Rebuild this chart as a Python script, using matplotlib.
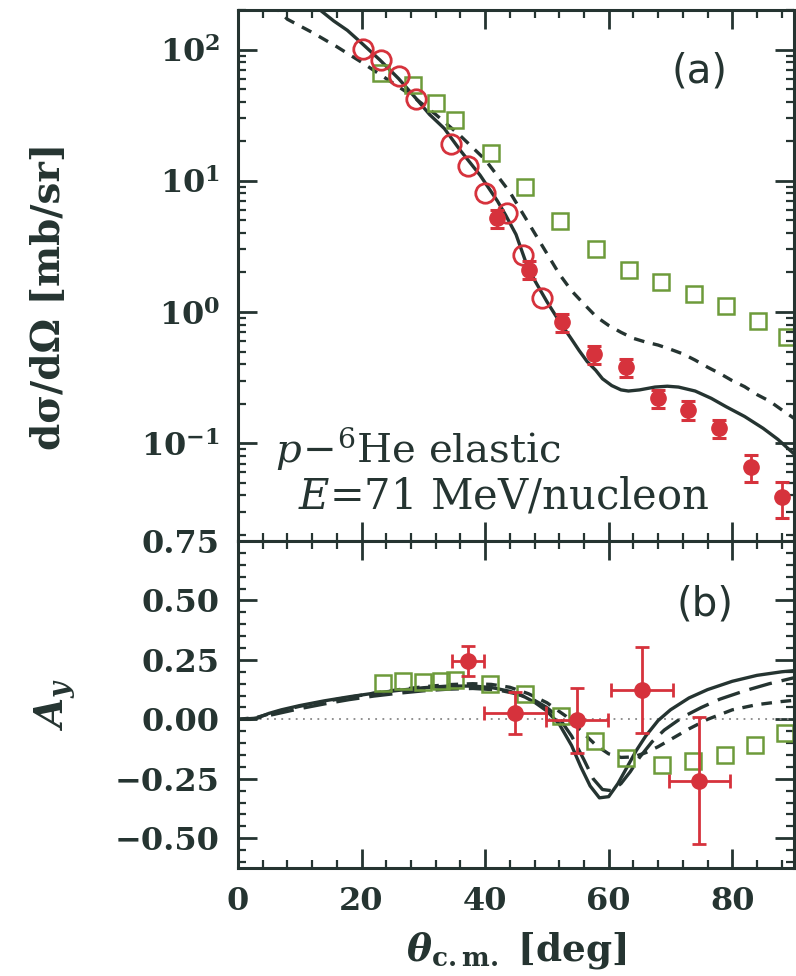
import matplotlib
matplotlib.use("Agg")
import matplotlib.pyplot as plt
from matplotlib.ticker import (MultipleLocator, LogLocator, NullFormatter, FixedLocator,
                               FixedFormatter, FuncFormatter)
import numpy as np

plt.rcParams['font.family'] = ['DejaVu Serif']
plt.rcParams['mathtext.fontset'] = 'dejavuserif'
plt.rcParams['axes.unicode_minus'] = True

DARK = '#253431'
RED = '#d6323c'
GREEN = '#6d9b3a'

# ---- (a) cross section ----
# open circles
xs_open_th = [20.2, 23.1, 26.0, 28.8, 34.4, 37.3, 40.0, 43.6, 46.1, 49.2]
xs_open_val = [101, 83, 63, 42, 18.9, 13.0, 8.0, 5.7, 2.7, 1.28]
# filled circles
xs_fill_th = [42.0, 47.1, 52.5, 57.7, 62.8, 68.0, 72.9, 77.8, 83.1, 88.0]
xs_fill_val = [5.2, 2.1, 0.84, 0.48, 0.38, 0.22, 0.18, 0.13, 0.066, 0.039]
xs_fill_err = [0.8, 0.33, 0.13, 0.075, 0.06, 0.036, 0.029, 0.021, 0.015, 0.012]
# open squares
xs_sq_th = [23.2, 28.4, 32.0, 35.1, 41.0, 46.4, 52.2, 58.0, 63.3, 68.5, 73.8, 79.0, 84.1, 88.9]
xs_sq_val = [66, 54, 39, 29, 16.3, 9.0, 4.9, 3.0, 2.1, 1.7, 1.37, 1.11, 0.86, 0.64]

# theory curves
xs_solid_th = [0, 5, 10, 13, 15.5, 17.7, 20, 23, 26, 28.7, 31, 33.4, 36, 39.2, 42, 43.3, 45,
               46.8, 48, 50, 52, 54, 55.2, 56.5, 57.9, 59, 60.5, 62, 63.2, 65, 67.5, 69.5,
               71.3, 74, 76.6, 79, 82, 85, 87.4, 90]
xs_solid_val = [700, 500, 290, 205, 165, 140, 112, 83, 60, 43, 32, 25, 17, 11, 7.0, 5.5, 3.9,
                2.25, 1.75, 1.2, 0.85, 0.62, 0.51, 0.42, 0.36, 0.31, 0.275, 0.255, 0.25, 0.255,
                0.268, 0.272, 0.268, 0.25, 0.22, 0.19, 0.16, 0.13, 0.107, 0.083]
xs_dash_th = [0, 4, 6.5, 8, 12, 16, 20, 24, 28, 32, 36, 40, 44, 48, 52, 54, 56, 58, 60, 62, 64,
              66, 68, 70, 72, 74, 76, 78, 80, 82, 84, 86, 88, 90]
xs_dash_val = [260, 230, 200, 170, 135, 105, 80, 60, 45, 32, 22, 14.5, 8.2, 4.0, 1.95, 1.45,
               1.15, 0.92, 0.79, 0.70, 0.63, 0.59, 0.56, 0.52, 0.48, 0.43, 0.38, 0.34, 0.30,
               0.27, 0.235, 0.21, 0.18, 0.155]

# ---- (b) analyzing power ----
ay_pt_th = [37.2, 44.8, 54.9, 65.4, 74.7]
ay_pt_val = [0.246, 0.028, -0.004, 0.124, -0.258]
ay_pt_xerr = [2.6, 5.0, 5.0, 5.0, 5.0]
ay_pt_yerr = [0.063, 0.088, 0.137, 0.18, 0.267]

ay_sq_th = [23.4, 26.7, 29.9, 32.8, 35.1, 40.8, 46.5, 52.3, 57.8, 62.8, 68.6, 73.6, 78.8, 83.7, 88.6]
ay_sq_val = [0.155, 0.162, 0.159, 0.162, 0.165, 0.148, 0.106, 0.014, -0.092, -0.162, -0.19,
             -0.176, -0.148, -0.106, -0.056]

ay_solid_th = [0, 2, 3, 5, 7, 10, 14, 18, 22, 26, 30, 34, 38, 41, 44, 46, 48, 50, 52, 54, 55.5,
               57, 58.5, 60, 61.5, 63, 64.5, 66, 68, 70, 73, 76, 80, 84, 88, 90]
ay_solid_val = [0, 0, 0.005, 0.025, 0.04, 0.058, 0.078, 0.095, 0.11, 0.122, 0.133, 0.14, 0.14,
                0.134, 0.118, 0.1, 0.072, 0.035, -0.02, -0.11, -0.2, -0.28, -0.33, -0.325,
                -0.27, -0.2, -0.13, -0.07, -0.005, 0.04, 0.09, 0.125, 0.16, 0.185, 0.2, 0.205]
ay_ldash_th = [0, 3, 6, 10, 14, 18, 22, 26, 30, 34, 38, 42, 45, 48, 50, 52, 54, 56, 57.5, 59,
               60.5, 62, 63.5, 65, 67, 69, 72, 75, 78, 82, 86, 90]
ay_ldash_val = [0, 0.005, 0.022, 0.045, 0.065, 0.083, 0.098, 0.11, 0.12, 0.127, 0.13, 0.124,
                0.108, 0.08, 0.05, 0.005, -0.07, -0.17, -0.25, -0.295, -0.3, -0.27, -0.22,
                -0.16, -0.095, -0.045, 0.01, 0.05, 0.085, 0.12, 0.15, 0.175]
ay_sdash_th = [0, 3, 6, 10, 14, 18, 22, 26, 30, 34, 38, 41, 44, 47, 50, 53, 56, 58, 60, 62, 64,
               66, 68, 70, 73, 76, 80, 84, 88, 90]
ay_sdash_val = [0, 0.008, 0.03, 0.055, 0.075, 0.093, 0.11, 0.125, 0.137, 0.146, 0.15, 0.147,
                0.135, 0.108, 0.07, 0.015, -0.06, -0.11, -0.145, -0.16, -0.158, -0.14, -0.115,
                -0.085, -0.04, 0.0, 0.04, 0.062, 0.075, 0.08]

ay_ticks = [0.75, 0.50, 0.25, 0.00, -0.25, -0.50]

W, H = 796, 976
fig = plt.figure(figsize=(W / 100, H / 100), dpi=100)
left, right = 238 / W, 794 / W
ax1 = fig.add_axes([left, 1 - 541 / H, right - left, (541 - 10) / H])
ax2 = fig.add_axes([left, 1 - 868 / H, right - left, (868 - 541) / H], sharex=ax1)


def style_axis(ax):
    for sp in ax.spines.values():
        sp.set_linewidth(2.2)
        sp.set_color(DARK)
    ax.tick_params(which='both', direction='in', top=True, right=True, colors=DARK,
                   labelsize=23, pad=13)
    ax.tick_params(which='major', length=14, width=2.0)
    ax.tick_params(which='minor', length=6, width=1.6)
    for lbl in ax.get_xticklabels() + ax.get_yticklabels():
        lbl.set_fontweight('bold')


def pow10_label(v, pos):
    return r'$\mathbf{10^{%d}}$' % int(round(np.log10(v)))


# panel (a)
ax1.set_yscale('log')
ax1.plot(xs_dash_th, xs_dash_val, color=DARK, lw=2.4, dashes=(3.2, 2.6))
ax1.plot(xs_solid_th, xs_solid_val, color=DARK, lw=2.4)
ax1.plot(xs_sq_th, xs_sq_val, ls='none', marker='s', ms=12, mfc='none', mec=GREEN, mew=1.8)
ax1.plot(xs_open_th, xs_open_val, ls='none', marker='o', ms=14, mfc='none', mec=RED, mew=2.0)
ax1.errorbar(xs_fill_th, xs_fill_val, yerr=xs_fill_err, fmt='o', ms=11, color=RED,
             ecolor=RED, elinewidth=2.0, capsize=5, capthick=2.2)
ax1.set_xlim(0, 90)
ax1.set_ylim(0.018, 200)
ax1.yaxis.set_major_locator(LogLocator(base=10, numticks=10))
ax1.yaxis.set_major_formatter(FuncFormatter(pow10_label))
ax1.yaxis.set_minor_locator(LogLocator(base=10, subs=range(2, 10), numticks=20))
ax1.yaxis.set_minor_formatter(NullFormatter())
style_axis(ax1)
ax1.tick_params(labelbottom=False)
ax1.set_ylabel('dσ/dΩ [mb/sr]', fontsize=28, color=DARK, weight='bold')
ax1.yaxis.set_label_coords(-0.305, 0.46)
ax1.text(0.83, 0.885, '(a)', transform=ax1.transAxes, fontsize=29, color=DARK,
         family='DejaVu Sans', ha='center', va='center')
ax1.text(0.066, 0.174, r'$p\!-\!{}^{6}$He elastic', transform=ax1.transAxes, fontsize=29,
         color=DARK, ha='left', va='center')
ax1.text(0.108, 0.083, r'$E$=71 MeV/nucleon', transform=ax1.transAxes, fontsize=30,
         color=DARK, ha='left', va='center')

# panel (b)
ax2.axhline(0, color='#888888', lw=1.3, ls=(0, (1, 3)))
ax2.plot(ay_sdash_th, ay_sdash_val, color=DARK, lw=2.4, dashes=(3.2, 2.6))
ax2.plot(ay_ldash_th, ay_ldash_val, color=DARK, lw=2.4, dashes=(7, 3))
ax2.plot(ay_solid_th, ay_solid_val, color=DARK, lw=2.4)
ax2.plot(ay_sq_th, ay_sq_val, ls='none', marker='s', ms=12, mfc='none', mec=GREEN, mew=1.8)
ax2.errorbar(ay_pt_th, ay_pt_val, xerr=ay_pt_xerr, yerr=ay_pt_yerr, fmt='o', ms=11,
             color=RED, ecolor=RED, elinewidth=2.0, capsize=5, capthick=2.0)
ax2.set_ylim(-0.625, 0.75)
ax2.yaxis.set_major_locator(FixedLocator(ay_ticks))
ax2.yaxis.set_major_formatter(FixedFormatter([f'{v:.2f}'.replace('-', '\u2212') for v in ay_ticks]))
ax2.yaxis.set_minor_locator(MultipleLocator(0.05))
ax2.xaxis.set_major_locator(MultipleLocator(20))
ax2.xaxis.set_minor_locator(MultipleLocator(4))
style_axis(ax2)
ax2.set_ylabel(r'$\mathbfit{A}_{\mathbfit{y}}$', fontsize=28, color=DARK)
ax2.yaxis.set_label_coords(-0.29, 0.5)
ax2.set_xlabel(r'$\mathbfit{\theta}_{\mathbf{c.m.}}$ [deg]', fontsize=27, color=DARK,
               weight='bold')
ax2.xaxis.set_label_coords(0.5, -0.19)
ax2.text(0.84, 0.805, '(b)', transform=ax2.transAxes, fontsize=29, color=DARK,
         family='DejaVu Sans', ha='center', va='center')

fig.savefig('out.png', dpi=100)
